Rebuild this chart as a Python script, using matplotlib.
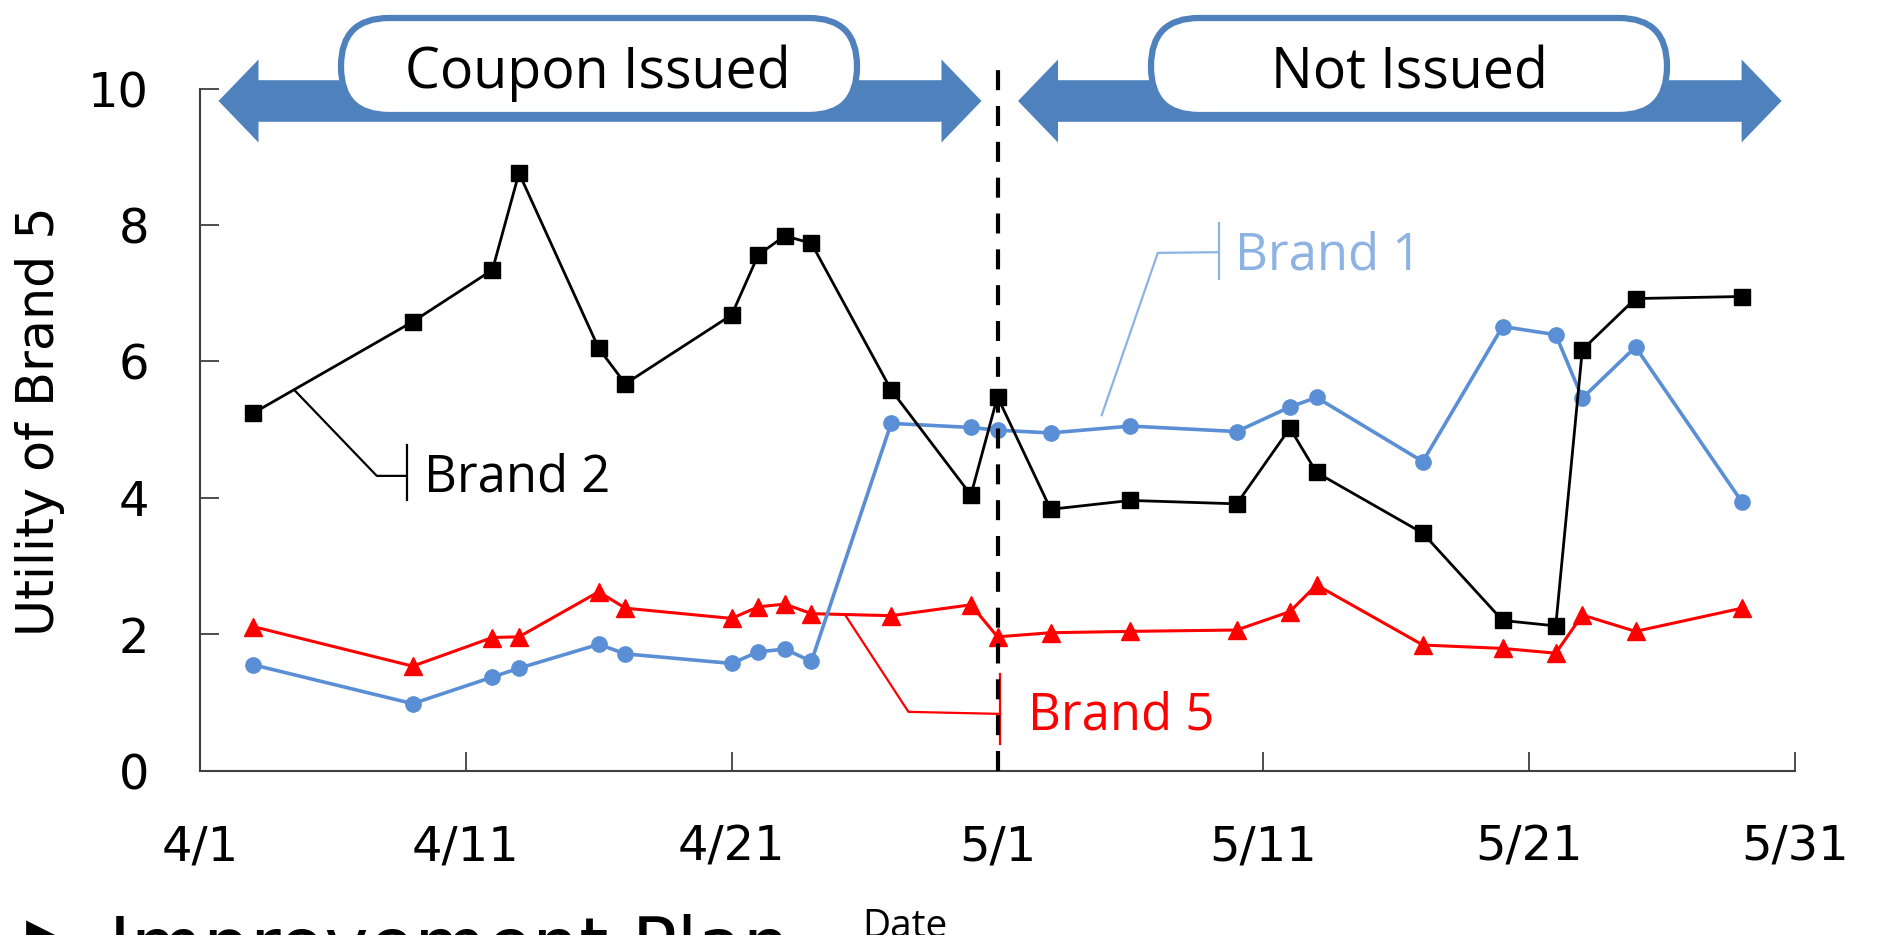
import numpy as np
import matplotlib.pyplot as plt
from matplotlib.patches import Polygon, FancyBboxPatch
from datetime import datetime

dates = ["4/3", "4/9", "4/12", "4/13", "4/16", "4/17", "4/21", "4/22", "4/23", "4/24",
         "4/27", "4/30", "5/1", "5/3", "5/6", "5/10", "5/12", "5/13", "5/17", "5/20",
         "5/22", "5/23", "5/25", "5/29"]
brand1 = [1.55, 0.98, 1.37, 1.50, 1.85, 1.71, 1.57, 1.74, 1.78, 1.60,
          5.09, 5.03, 4.99, 4.95, 5.05, 4.97, 5.33, 5.47, 4.53, 6.51,
          6.39, 5.46, 6.21, 3.94]
brand2 = [5.24, 6.58, 7.34, 8.76, 6.19, 5.67, 6.68, 7.56, 7.84, 7.73,
          5.58, 4.04, 5.48, 3.83, 3.96, 3.91, 5.02, 4.37, 3.48, 2.20,
          2.12, 6.17, 6.92, 6.95]
brand5 = [2.11, 1.53, 1.95, 1.96, 2.62, 2.38, 2.23, 2.40, 2.44, 2.30,
          2.27, 2.43, 1.96, 2.02, 2.04, 2.06, 2.33, 2.72, 1.84, 1.79,
          1.72, 2.28, 2.04, 2.38]
tick_labels = ["4/1", "4/11", "4/21", "5/1", "5/11", "5/21", "5/31"]
y_ticks = [0, 2, 4, 6, 8, 10]
coupon_start = "5/1"


def day_of(s):
    m, d = s.split("/")
    return (datetime(2000, int(m), int(d)) - datetime(2000, 4, 1)).days


x = np.array([day_of(s) for s in dates])
tick_x = [day_of(s) for s in tick_labels]
split = day_of(coupon_start)

W, H = 1903, 935
fig = plt.figure(figsize=(W / 100, H / 100), dpi=100)
ax = fig.add_axes([200 / W, 1 - 770.5 / H, 1595 / W, 682 / H])
ax.set_facecolor('none')

blue = '#5A8FD6'
light_blue = '#8DB3E2'
arrow_blue = '#4F81BD'

ax.plot(x, brand5, color='red', lw=2.2, marker='^', ms=13, zorder=3)
ax.plot(x, brand1, color=blue, lw=2.6, marker='o', ms=11, zorder=4)
ax.plot(x, brand2, color='black', lw=2.0, marker='s', ms=11.5, zorder=5)

# dashed divider
ax.plot([split, split], [0, 10.42], color='black', lw=3, dashes=(4.8, 3.8),
        clip_on=False, zorder=6)

ax.set_xlim(tick_x[0], tick_x[-1])
ax.set_ylim(0, 10)
ax.set_xticks(tick_x)
ax.set_xticklabels(tick_labels)
ax.set_yticks(y_ticks)
for s in ['top', 'right']:
    ax.spines[s].set_visible(False)
for s in ['left', 'bottom']:
    ax.spines[s].set_color('#404040')
    ax.spines[s].set_linewidth(1.5)
ax.tick_params(direction='in', length=13.5, width=1.3, color='#404040',
               labelsize=34.5)
ax.tick_params(axis='y', pad=36.7)
ax.tick_params(axis='x', pad=38)

# series callouts
lab = dict(fontsize=36.5, family='Open Sans', va='baseline', ha='left')
ax.plot([3.57, 6.65, 7.78], [5.57, 4.32, 4.32], color='black', lw=1.6, zorder=2)
ax.plot([7.78, 7.78], [3.97, 4.77], color='black', lw=1.6, zorder=2)
ax.text(8.43, 4.09, 'Brand 2', color='black', **lab)

ax.plot([33.92, 36.03, 38.33], [5.21, 7.59, 7.60], color=light_blue, lw=1.6, zorder=2)
ax.plot([38.33, 38.33], [7.21, 8.03], color=light_blue, lw=1.6, zorder=2)
ax.text(38.94, 7.34, 'Brand 1', color=light_blue, **lab)

ax.plot([24.27, 26.65, 30.1], [2.28, 0.86, 0.83], color='red', lw=1.6, zorder=2)
ax.plot([30.1, 30.1], [0.39, 1.42], color='red', lw=1.6, zorder=2)
ax.text(31.15, 0.60, 'Brand 5', color='red', **lab)

# overlay in pixel coordinates for the banner arrows
ov = fig.add_axes([0, 0, 1, 1], zorder=-1)
ov.set_xlim(0, W)
ov.set_ylim(H, 0)
ov.axis('off')


def double_arrow(x0, x1, yc=101, body=20.8, head=41.5, hl=40):
    pts = [(x0, yc), (x0 + hl, yc - head), (x0 + hl, yc - body),
           (x1 - hl, yc - body), (x1 - hl, yc - head), (x1, yc),
           (x1 - hl, yc + head), (x1 - hl, yc + body),
           (x0 + hl, yc + body), (x0 + hl, yc + head)]
    ov.add_patch(Polygon(pts, closed=True, fc=arrow_blue, ec='none'))


double_arrow(218.5, 981.5)
double_arrow(1018, 1781.6)

for bx, label, cx in [(341, 'Coupon Issued', 598), (1151, 'Not Issued', 1409)]:
    ov.add_patch(FancyBboxPatch((bx, 18), 516, 97,
                                boxstyle="round,pad=0,rounding_size=48",
                                fc='white', ec=arrow_blue, lw=4.5))
    ov.text(cx, 88.3, label, fontsize=40, family='Open Sans',
            ha='center', va='baseline')

fig.text(40 / W, 1 - 421.5 / H, 'Utility of Brand 5', rotation=90,
         fontsize=36.5, ha='center', va='center')
ov.text(905, 937, 'Date', fontsize=28, family='Open Sans', ha='center', va='baseline')
ov.text(109, 970.6, 'Improvement Plan', fontsize=53.5, ha='left', va='baseline')
ov.text(26, 915, '\u25B6', fontsize=33, ha='left', va='top')

fig.savefig('out.png', dpi=100)
